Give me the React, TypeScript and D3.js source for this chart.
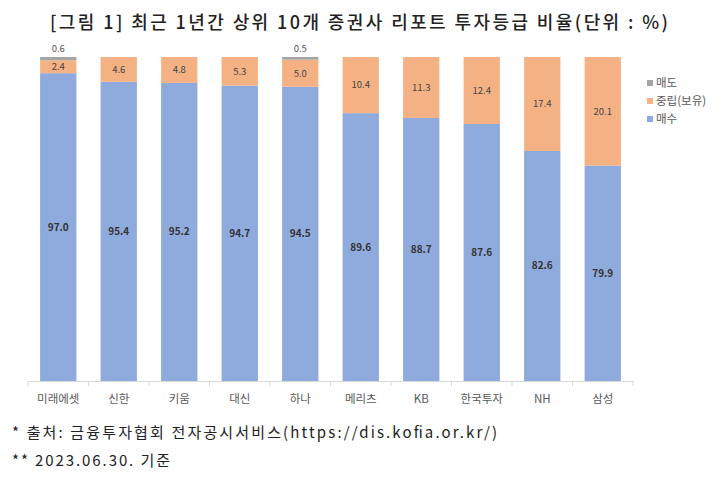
import React from "react";
import * as d3 from "d3";

const categories = ["미래에셋", "신한", "키움", "대신", "하나", "메리츠", "KB", "한국투자", "NH", "삼성"];
const buyValues = [97.0, 95.4, 95.2, 94.7, 94.5, 89.6, 88.7, 87.6, 82.6, 79.9];
const holdValues = [2.4, 4.6, 4.8, 5.3, 5.0, 10.4, 11.3, 12.4, 17.4, 20.1];
const sellValues = [0.6, 0, 0, 0, 0.5, 0, 0, 0, 0, 0];
const seriesNames = ["매도", "중립(보유)", "매수"];
const seriesColors = ["#A5A5A5", "#F4B183", "#8FAADC"];
const yDomain = [40, 100];

const title = "[그림 1] 최근 1년간 상위 10개 증권사 리포트 투자등급 비율(단위 : %)";
const note1 = "* 출처: 금융투자협회 전자공시서비스(https://dis.kofia.or.kr/)";
const note2 = "** 2023.06.30. 기준";

export default function App() {
  const W = 721, H = 477;
  const x = d3.scaleBand<string>().domain(categories).range([28, 633]).paddingInner(0.4).paddingOuter(0.2);
  const y = d3.scaleLinear().domain(yDomain).range([381, 57]);
  const y0 = y(yDomain[0]);
  const font = "'Noto Sans CJK KR', 'Noto Sans', sans-serif";

  return (
    <svg width={W} height={H} style={{ position: "absolute", left: 0, top: 0, background: "#fff" }}>
      <rect width={W} height={H} fill="#fff" />
      <text x={50} y={29} textLength={618} lengthAdjust="spacing" fontFamily={font} fontSize={18} fontWeight={500} fill="#222">{title}</text>
      {categories.map((c, i) => {
        const bx = x(c)!;
        const bw = x.bandwidth();
        const b = buyValues[i], h = holdValues[i], s = sellValues[i];
        const cx = bx + bw / 2;
        return (
          <g key={c}>
            <rect x={bx} y={y(b)} width={bw} height={y0 - y(b)} fill={seriesColors[2]} />
            <rect x={bx} y={y(b + h)} width={bw} height={y(b) - y(b + h)} fill={seriesColors[1]} />
            {s > 0 && <rect x={bx} y={y(b + h + s)} width={bw} height={y(b + h) - y(b + h + s)} fill={seriesColors[0]} />}
            <text x={cx} y={(y(b) + y0) / 2} dy="0.35em" textAnchor="middle" fontFamily={font} fontSize={10} fontWeight={700} fill="#333">{b.toFixed(1)}</text>
            <text x={cx} y={(y(b + h) + y(b)) / 2} dy="0.35em" textAnchor="middle" fontFamily={font} fontSize={9.5} fill="#444">{h.toFixed(1)}</text>
            {s > 0 && <text x={cx} y={y(b + h + s) - 5} textAnchor="middle" fontFamily={font} fontSize={9.5} fill="#555">{s.toFixed(1)}</text>}
            <text x={cx} y={403} textAnchor="middle" fontFamily={font} fontSize={11.5} fill="#595959">{c}</text>
          </g>
        );
      })}
      <line x1={28} x2={633} y1={381.5} y2={381.5} stroke="#d9d9d9" />
      {d3.range(categories.length + 1).map((i) => {
        const tx = 28 + i * x.step();
        return <line key={i} x1={tx} x2={tx} y1={381} y2={386} stroke="#d9d9d9" />;
      })}
      {seriesNames.map((n, i) => (
        <g key={n}>
          <rect x={647} y={80 + i * 18} width={6} height={6} fill={seriesColors[i]} />
          <text x={656} y={83 + i * 18} dy="0.35em" fontFamily={font} fontSize={11.5} fill="#595959">{n}</text>
        </g>
      ))}
      <text x={12} y={438} textLength={485} lengthAdjust="spacing" fontFamily={font} fontSize={15} fill="#222">{note1}</text>
      <text x={12} y={466} textLength={158} lengthAdjust="spacing" fontFamily={font} fontSize={15} fill="#222">{note2}</text>
    </svg>
  );
}
